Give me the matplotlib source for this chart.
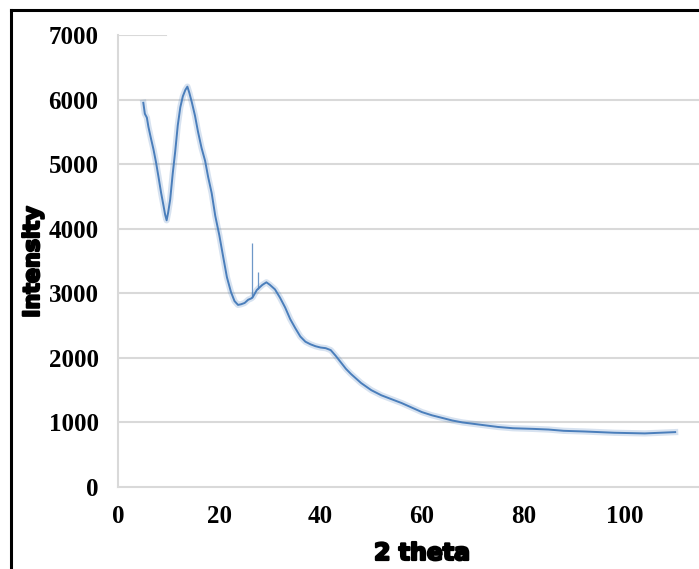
import matplotlib
matplotlib.use('Agg')
import matplotlib.pyplot as plt
import matplotlib.patheffects as pe
from matplotlib.lines import Line2D

# XRD pattern
two_theta = [5.0, 5.3, 5.7, 6.0, 6.5, 7.0, 7.5, 8.0, 8.5, 9.0, 9.3, 9.6, 9.9,
             10.3, 10.8, 11.3, 11.8, 12.3, 12.8, 13.3, 13.7, 14.1, 14.6, 15.2,
             15.8, 16.5, 17.2, 17.8, 18.5, 19.2, 20.0, 20.8, 21.5, 22.3, 23.0,
             23.7, 24.3, 25.0, 25.7, 26.3, 26.6, 27.4, 27.8, 28.5,
             29.3, 30.0, 31.0, 32.0, 33.0, 34.0, 35.0, 36.0, 37.0, 38.0, 39.0,
             40.0, 41.0, 42.0, 43.0, 44.0, 45.0, 46.0, 47.0, 48.0, 50.0, 52.0,
             54.0, 56.0, 58.0, 60.0, 62.0, 64.0, 66.0, 68.0, 70.0, 72.0, 75.0,
             78.0, 82.0, 85.0, 88.0, 92.0, 95.0, 98.0, 101.0, 104.0, 107.0, 110.0]
intensity = [5950, 5780, 5720, 5580, 5400, 5230, 5030, 4800, 4560, 4350, 4220,
             4130, 4250, 4450, 4850, 5200, 5600, 5880, 6050, 6150, 6200, 6100,
             5950, 5750, 5500, 5250, 5050, 4800, 4550, 4200, 3900, 3550, 3250,
             3020, 2880, 2820, 2830, 2850, 2900, 2920, 2940, 3050,
             3080, 3130, 3170, 3130, 3060, 2930, 2780, 2600, 2460, 2330, 2250,
             2210, 2180, 2160, 2150, 2120, 2030, 1930, 1830, 1750, 1680, 1610,
             1500, 1420, 1360, 1300, 1230, 1160, 1110, 1070, 1030, 1000, 980,
             960, 930, 910, 900, 890, 870, 860, 850, 840, 835, 830, 840, 850]

# narrow spikes on the curve
spike_x = [26.45, 27.6]
spike_base = [2920, 3060]
spike_top = [3780, 3330]

y_ticks = [0, 1000, 2000, 3000, 4000, 5000, 6000, 7000]
x_ticks = [0, 20, 40, 60, 80, 100]

fig = plt.figure(figsize=(6.99, 5.69), dpi=100)
ax = fig.add_axes([118/699, 82/569, 1 - 118/699, 452/569])

grid_col = '#d9d9d9'
for v in y_ticks[1:-1]:
    ax.axhline(v, color=grid_col, lw=1.5, zorder=0)
# the top gridline is only partly visible in the original
ax.plot([0, 9.4], [7000, 7000], color=grid_col, lw=1.5, zorder=0)

line_col = '#4a7ebb'
ax.plot(two_theta, intensity, color=line_col, lw=4.5, alpha=0.22, zorder=2)
ax.plot(two_theta, intensity, color=line_col, lw=1.4, zorder=3)
ax.vlines(spike_x, spike_base, spike_top, color=line_col, lw=0.9, alpha=0.8, zorder=3)

ax.set_xlim(0, (699 - 118) / 5.065)
ax.set_ylim(0, 7000)
ax.set_xticks(x_ticks)
ax.set_yticks(y_ticks)

tfont = dict(family='Liberation Serif', weight='bold', size=18)
ax.set_xticklabels([str(t) for t in x_ticks], fontdict=tfont)
ax.set_yticklabels([str(t) for t in y_ticks], fontdict=tfont)
ax.tick_params(axis='y', length=0, pad=14)
ax.tick_params(axis='x', length=0, pad=13)

for s in ['top', 'right']:
    ax.spines[s].set_visible(False)
for s in ['left', 'bottom']:
    ax.spines[s].set_color(grid_col)
    ax.spines[s].set_linewidth(1.5)
ax.patch.set_alpha(0)

heavy = [pe.withStroke(linewidth=1.6, foreground='black')]
fig.text(422/699, 1 - 553/569, '2 theta', ha='center', va='center',
         fontsize=17, fontweight='bold', family='DejaVu Sans', path_effects=heavy)
fig.text(33/699, 1 - 262/569, 'Intensity', ha='center', va='center',
         rotation=90, fontsize=16, fontweight='bold', family='DejaVu Sans',
         path_effects=heavy)

# frame of the original picture (left and top only)
fig.add_artist(Line2D([11/699, 11/699], [0, 1 - 10/569], color='black', lw=2.2,
                      transform=fig.transFigure))
fig.add_artist(Line2D([11/699, 1], [1 - 10/569, 1 - 10/569], color='black', lw=2.2,
                      transform=fig.transFigure))

fig.savefig('out.png', dpi=100)
